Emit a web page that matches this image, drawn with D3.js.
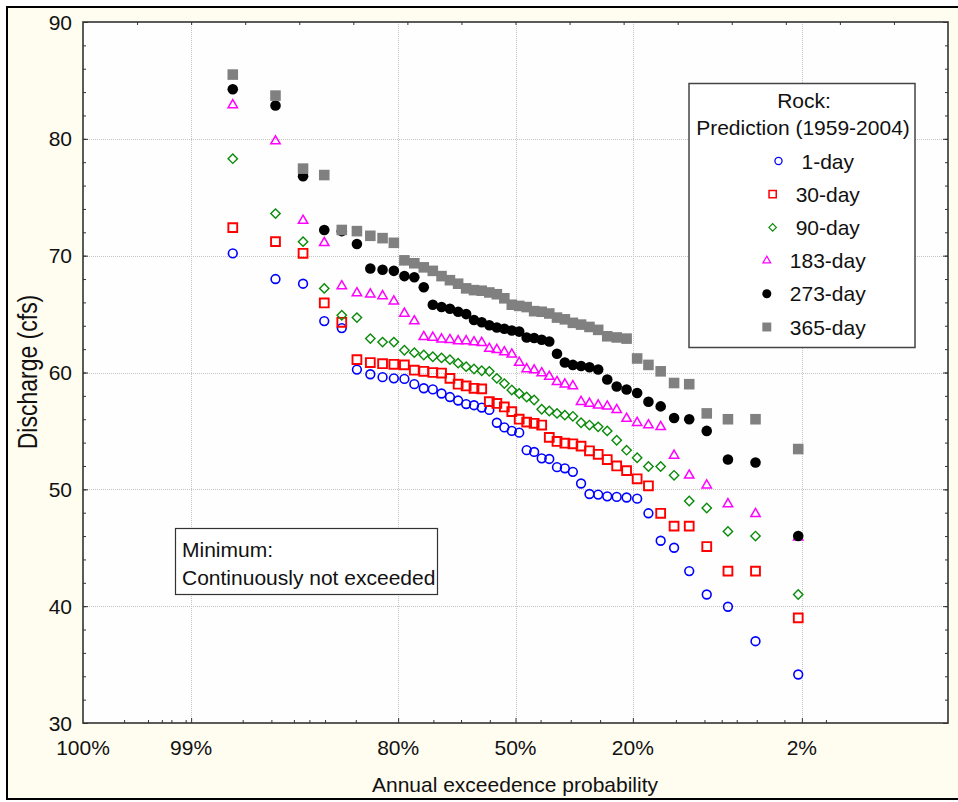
<!DOCTYPE html>
<html>
<head>
<meta charset="utf-8">
<script src="https://cdn.jsdelivr.net/npm/d3@7"></script>
<style>
  html, body { margin: 0; padding: 0; background: #ffffff; }
  svg { display: block; font-family: "Liberation Sans", Arial, sans-serif; }
</style>
</head>
<body>
<svg id="chart" width="958" height="802"></svg>
<script>
// ---------------- DATA ----------------
// Annual exceedence probability (plotting positions, 46 years 1959-2004), left to right
const exceedProb = [0.9787,0.9574,0.9362,0.9149,0.8936,0.8723,0.8511,0.8298,0.8085,0.7872,
  0.7660,0.7447,0.7234,0.7021,0.6809,0.6596,0.6383,0.6170,0.5957,0.5745,
  0.5532,0.5319,0.5106,0.4894,0.4681,0.4468,0.4255,0.4043,0.3830,0.3617,
  0.3404,0.3191,0.2979,0.2766,0.2553,0.2340,0.2128,0.1915,0.1702,0.1489,
  0.1277,0.1064,0.0851,0.0638,0.0426,0.0213];

const oneDay = [70.2,68.0,67.6,64.4,63.8,60.25,59.85,59.6,59.5,59.45,
  59.0,58.65,58.55,58.2,57.9,57.6,57.3,57.2,57.0,56.8,
  55.7,55.3,55.0,54.85,53.35,53.2,52.65,52.6,51.9,51.8,
  51.5,50.5,49.6,49.55,49.4,49.35,49.3,49.2,47.95,45.6,
  45.0,43.0,41.0,39.95,37.0,34.15];

const thirtyDay = [72.4,71.2,70.2,65.95,64.3,61.1,60.85,60.75,60.7,60.65,
  60.2,60.1,60.0,59.95,59.5,59.0,58.85,58.65,58.6,57.5,
  57.35,57.05,56.65,56.0,55.75,55.65,55.5,54.45,54.1,53.95,
  53.9,53.7,53.3,53.0,52.55,52.0,51.6,50.9,50.3,47.95,
  46.85,46.85,45.1,43.0,43.0,39.0];

const ninetyDay = [78.3,73.6,71.2,67.2,64.9,64.7,62.9,62.6,62.6,61.9,
  61.7,61.5,61.35,61.25,61.1,60.8,60.5,60.3,60.15,60.1,
  59.5,59.05,58.5,58.2,57.9,57.65,56.85,56.7,56.5,56.35,
  56.25,55.7,55.5,55.35,55.0,54.2,53.35,52.7,51.95,51.95,
  51.2,49.0,48.4,46.4,46.0,41.0];

const day183 = [82.9,79.8,73.0,71.1,67.4,66.8,66.7,66.55,66.1,65.05,
  64.4,63.05,63.0,62.85,62.8,62.7,62.7,62.6,62.55,62.05,
  61.95,61.75,61.55,60.85,60.3,60.2,59.95,59.65,59.2,59.0,
  58.85,57.5,57.35,57.2,57.1,56.8,56.05,55.7,55.5,55.35,
  52.9,51.2,50.35,48.75,47.9,45.9];

const day273 = [84.25,82.85,76.8,72.2,72.1,71.0,68.9,68.8,68.7,68.25,
  68.15,67.3,65.8,65.6,65.45,65.2,65.0,64.5,64.3,64.05,
  63.85,63.75,63.6,63.5,63.0,62.95,62.8,62.65,61.6,60.85,
  60.65,60.55,60.45,60.25,59.4,58.8,58.55,58.25,57.5,57.1,
  56.1,56.0,55.0,52.55,52.3,46.0];

const day365 = [85.5,83.7,77.45,76.9,72.2,72.1,71.7,71.5,71.1,69.6,
  69.35,69.0,68.7,68.25,67.9,67.6,67.2,67.05,67.0,66.85,
  66.7,66.35,65.8,65.7,65.6,65.25,65.2,65.05,64.7,64.55,
  64.25,64.1,63.9,63.65,63.1,63.0,62.9,61.2,60.65,60.1,
  59.1,59.0,56.5,56.0,56.0,53.45];

const seriesNames = ["1-day","30-day","90-day","183-day","273-day","365-day"];
const seriesValues = [oneDay, thirtyDay, ninetyDay, day183, day273, day365];

// axis ticks
const xTickLabels = ["100%","99%","80%","50%","20%","2%"];
const xTickProbs = [1, 0.99, 0.8, 0.5, 0.2, 0.02];
const xMinorProbs = [0.9975,0.9958,0.9944,0.9932,0.9910,0.9748,0.9600,0.9440,0.9303,0.9140,
  0.8740,0.7220,0.6520,0.5730,0.4286,0.3460,0.2720,0.1250,0.0877,0.0696,0.0563,0.0418,0.0269,0.0130];
const yTicks = [30,40,50,60,70,80,90];

// ---------------- HELPERS ----------------
function probit(p) {
  const a=[-3.969683028665376e+01,2.209460984245205e+02,-2.759285104469687e+02,1.383577518672690e+02,-3.066479806614716e+01,2.506628277459239e+00];
  const b=[-5.447609879822406e+01,1.615858368580409e+02,-1.556989798598866e+02,6.680131188771972e+01,-1.328068155288572e+01];
  const c=[-7.784894002430293e-03,-3.223964580411365e-01,-2.400758277161838e+00,-2.549732539343734e+00,4.374664141464968e+00,2.938163982698783e+00];
  const d=[7.784695709041462e-03,3.224671290700398e-01,2.445134137142996e+00,3.754408661907416e+00];
  const pl=0.02425, ph=1-pl;
  let q, r;
  if (p < pl) { q=Math.sqrt(-2*Math.log(p)); return (((((c[0]*q+c[1])*q+c[2])*q+c[3])*q+c[4])*q+c[5])/((((d[0]*q+d[1])*q+d[2])*q+d[3])*q+1); }
  if (p <= ph) { q=p-0.5; r=q*q; return (((((a[0]*r+a[1])*r+a[2])*r+a[3])*r+a[4])*r+a[5])*q/(((((b[0]*r+b[1])*r+b[2])*r+b[3])*r+b[4])*r+1); }
  q=Math.sqrt(-2*Math.log(1-p)); return -(((((c[0]*q+c[1])*q+c[2])*q+c[3])*q+c[4])*q+c[5])/((((d[0]*q+d[1])*q+d[2])*q+d[3])*q+1);
}

// ---------------- LAYOUT ----------------
const svg = d3.select("#chart");
const W = 958, H = 802;
const plot = {left: 83, right: 948, top: 22, bottom: 723};
const z99 = probit(0.99);
const zMax = z99 * 8 / 6;

const xz = d3.scaleLinear().domain([zMax, -zMax]).range([plot.left, plot.right]);
const xp = p => xz(p >= 1 ? zMax : Math.min(zMax, probit(p)));
const y = d3.scaleLinear().domain([30, 90]).range([plot.bottom, plot.top]);

// outer frame
svg.append("rect").attr("x", 7).attr("y", 7).attr("width", 970).attr("height", 792)
  .attr("fill", "#fffcf0").attr("stroke", "#000").attr("stroke-width", 2);

// plot background
svg.append("rect").attr("x", plot.left).attr("y", plot.top)
  .attr("width", plot.right - plot.left).attr("height", plot.bottom - plot.top)
  .attr("fill", "#fefefe");

// grid
const grid = svg.append("g").attr("stroke", "#c4c4c4").attr("stroke-width", 1).attr("stroke-dasharray", "1,1");
grid.selectAll("line.gy").data(yTicks.slice(1, -1)).join("line")
  .attr("x1", plot.left).attr("x2", plot.right)
  .attr("y1", d => Math.round(y(d)) + 0.5).attr("y2", d => Math.round(y(d)) + 0.5);
grid.selectAll("line.gx").data(xTickProbs.slice(1)).join("line")
  .attr("y1", plot.top).attr("y2", plot.bottom)
  .attr("x1", d => Math.round(xp(d)) + 0.5).attr("x2", d => Math.round(xp(d)) + 0.5);

// axes via d3 axis generators (ticks drawn inward)
const yMinor = d3.range(30, 91, 2);
const axisStyle = g => {
  g.select(".domain").remove();
  g.selectAll(".tick line").attr("stroke", "#333").attr("stroke-width", 1);
};

// left
svg.append("g").attr("transform", `translate(${plot.left},0)`)
  .call(d3.axisRight(y).tickValues(yMinor).tickSize(3).tickFormat(""))
  .call(axisStyle);
svg.append("g").attr("transform", `translate(${plot.left},0)`)
  .call(d3.axisRight(y).tickValues(yTicks).tickSize(5).tickFormat(""))
  .call(axisStyle);
svg.append("g").attr("class", "ylabels")
  .selectAll("text").data(yTicks).join("text")
  .attr("x", 72).attr("y", d => y(d)).attr("dy", "0.36em")
  .attr("text-anchor", "end").attr("font-size", 21).attr("fill", "#111")
  .text(d => d);

// right
svg.append("g").attr("transform", `translate(${plot.right},0)`)
  .call(d3.axisLeft(y).tickValues(yMinor).tickSize(3).tickFormat(""))
  .call(axisStyle);
svg.append("g").attr("transform", `translate(${plot.right},0)`)
  .call(d3.axisLeft(y).tickValues(yTicks).tickSize(5).tickFormat(""))
  .call(axisStyle);

// top: evenly spaced probit ticks
const topTicks = d3.range(-7, 8).map(k => k * z99 / 6);
svg.append("g").attr("transform", `translate(0,${plot.top})`)
  .call(d3.axisBottom(xz).tickValues(topTicks).tickSize(3).tickFormat(""))
  .call(axisStyle);

// bottom
const xpScaleLike = Object.assign(p => xp(p), {copy(){return this;}, range(){return [plot.left, plot.right];}, domain(){return [1,0];}});
svg.append("g").attr("transform", `translate(0,${plot.bottom})`)
  .call(d3.axisTop(xz).tickValues(xMinorProbs.map(p => probit(p))).tickSize(3).tickFormat(""))
  .call(axisStyle);
svg.append("g").attr("transform", `translate(0,${plot.bottom})`)
  .call(d3.axisTop(xz).tickValues(xTickProbs.slice(1).map(p => probit(p))).tickSize(5).tickFormat(""))
  .call(axisStyle);
svg.append("g").selectAll("text").data(xTickProbs).join("text")
  .attr("x", d => xp(d)).attr("y", 755)
  .attr("text-anchor", "middle").attr("font-size", 21).attr("fill", "#111")
  .text((d, i) => xTickLabels[i]);

// plot border
svg.append("rect").attr("x", plot.left).attr("y", plot.top)
  .attr("width", plot.right - plot.left).attr("height", plot.bottom - plot.top)
  .attr("fill", "none").attr("stroke", "#333").attr("stroke-width", 1.6);

// axis titles
svg.append("text").attr("x", 515).attr("y", 792).attr("text-anchor", "middle")
  .attr("font-size", 21).attr("fill", "#111").text("Annual exceedence probability");
svg.append("text").attr("transform", "translate(37,372) rotate(-90) scale(1,1.2)")
  .attr("text-anchor", "middle").attr("font-size", 23).attr("fill", "#111")
  .text("Discharge (cfs)");

// ---------------- MARKERS ----------------
const styles = [
  {type: d3.symbolCircle, size: 60, fill: "none", stroke: "#0000ff", sw: 1.6, rot: 0, lsize: 40},
  {type: d3.symbolSquare, size: 78, fill: "none", stroke: "#ff0000", sw: 1.9, rot: 0, lsize: 52},
  {type: d3.symbolSquare, size: 44, fill: "none", stroke: "#0a8a0a", sw: 1.4, rot: 45, lsize: 28},
  {type: d3.symbolTriangle, size: 38, fill: "none", stroke: "#ff00ff", sw: 1.5, rot: 0, lsize: 26},
  {type: d3.symbolCircle, size: 88, fill: "#000000", stroke: "none", sw: 0, rot: 0, lsize: 64},
  {type: d3.symbolSquare, size: 112, fill: "#808080", stroke: "none", sw: 0, rot: 0, lsize: 80}
];

const pts = svg.append("g");
seriesValues.forEach((vals, si) => {
  const st = styles[si];
  const sym = d3.symbol().type(st.type).size(st.size);
  pts.append("g").selectAll("path").data(vals).join("path")
    .attr("d", sym)
    .attr("transform", (v, i) => `translate(${xp(exceedProb[i])},${y(v)}) rotate(${st.rot})`)
    .attr("fill", st.fill).attr("stroke", st.stroke).attr("stroke-width", st.sw);
});

// ---------------- LEGEND ----------------
const lg = svg.append("g");
lg.append("rect").attr("x", 689).attr("y", 83.5).attr("width", 226).attr("height", 264)
  .attr("fill", "#ffffff").attr("stroke", "#444").attr("stroke-width", 1.5);
lg.append("text").attr("x", 804).attr("y", 108).attr("text-anchor", "middle")
  .attr("font-size", 21).attr("fill", "#111").text("Rock:");
lg.append("text").attr("x", 803).attr("y", 135).attr("text-anchor", "middle")
  .attr("font-size", 21).attr("fill", "#111").text("Prediction (1959-2004)");

const rowY = d3.scalePoint().domain(seriesNames).range([161, 327]);
seriesNames.forEach((name, si) => {
  const st = styles[si];
  const t = lg.append("text").attr("y", rowY(name)).attr("dy", "0.36em")
    .attr("font-size", 21).attr("fill", "#111").text(name);
  const tw = t.node().getComputedTextLength();
  const groupW = 4.5 + 23 + tw;
  const mx = 814 - groupW / 2 + 4.5;
  t.attr("x", mx + 23);
  lg.append("path").attr("d", d3.symbol().type(st.type).size(st.lsize))
    .attr("transform", `translate(${mx},${rowY(name)}) rotate(${st.rot})`)
    .attr("fill", st.fill).attr("stroke", st.stroke).attr("stroke-width", st.sw * 0.8);
});

// ---------------- NOTE BOX ----------------
const nb = svg.append("g");
nb.append("rect").attr("x", 175.5).attr("y", 528.5).attr("width", 262).attr("height", 66)
  .attr("fill", "#ffffff").attr("stroke", "#333").attr("stroke-width", 1.2);
nb.append("text").attr("x", 182).attr("y", 557).attr("font-size", 21).attr("fill", "#111").text("Minimum:");
nb.append("text").attr("x", 182).attr("y", 585).attr("font-size", 21).attr("fill", "#111").text("Continuously not exceeded");
</script>
</body>
</html>
